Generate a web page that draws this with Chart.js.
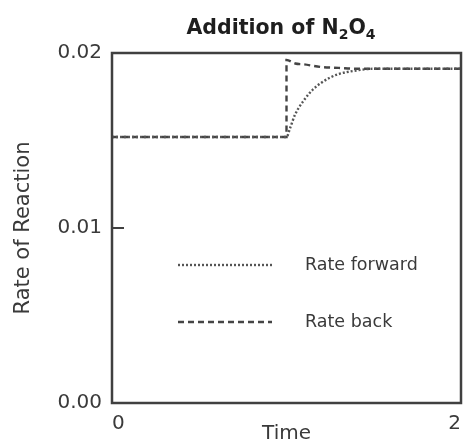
<!DOCTYPE html>
<html>
<head>
<meta charset="utf-8">
<script src="https://cdn.jsdelivr.net/npm/chart.js@4.4.1/dist/chart.umd.min.js"></script>
<style>
  html, body { margin: 0; padding: 0; background: #fff; }
  #wrap { width: 465px; height: 446px; }
</style>
</head>
<body>
<div id="wrap"><canvas id="rateChart" width="465" height="446"></canvas></div>
<script>
// Valeurs
const timeForward = [0, 1, 1.02, 1.05, 1.1, 1.15, 1.2, 1.25, 1.3, 1.4, 1.5, 1.7, 2];
const rateForward = [0.0152, 0.0152, 0.0157, 0.0165, 0.0173, 0.0179, 0.0183, 0.0186, 0.0188, 0.0190, 0.0191, 0.0191, 0.0191];
const timeBack = [0, 1, 1, 1.05, 1.1, 1.2, 1.3, 1.4, 1.6, 2];
const rateBack = [0.0152, 0.0152, 0.0196, 0.0194, 0.01935, 0.0192, 0.01915, 0.0191, 0.0191, 0.0191];
const seriesLabels = ['Rate forward', 'Rate back'];
const yTicks = [0, 0.01, 0.02];
const xTicks = [0, 2];

const ink = '#404040';
const textColor = '#3a3a3a';
const fontFamily = '"DejaVu Sans", sans-serif';

function toPoints(xs, ys) {
    return xs.map((x, i) => ({ x: x, y: ys[i] }));
}

// Cadre, graduation intérieure, titre et légende
const decorPlugin = {
    id: 'decor',
    afterDraw(chart) {
        const { ctx, chartArea: a, scales } = chart;
        ctx.save();
        ctx.strokeStyle = ink;
        ctx.lineWidth = 2.5;
        ctx.strokeRect(a.left, a.top, a.right - a.left, a.bottom - a.top);

        // petite graduation à 0.01
        const yMid = scales.y.getPixelForValue(yTicks[1]);
        ctx.lineWidth = 2;
        ctx.beginPath();
        ctx.moveTo(a.left, yMid);
        ctx.lineTo(a.left + 12, yMid);
        ctx.stroke();

        // titre avec indices
        ctx.fillStyle = '#1e1e1e';
        ctx.textBaseline = 'alphabetic';
        const big = 'bold 20.5px ' + fontFamily;
        const small = 'bold 14px ' + fontFamily;
        const parts = [['Addition of N', big, 0], ['2', small, 5], ['O', big, 0], ['4', small, 5]];
        let total = 0;
        parts.forEach(p => { ctx.font = p[1]; total += ctx.measureText(p[0]).width; });
        let x = 281 - total / 2;
        const base = 34;
        parts.forEach(p => {
            ctx.font = p[1];
            ctx.fillText(p[0], x, base + p[2]);
            x += ctx.measureText(p[0]).width;
        });

        // légende à l'intérieur du graphique
        const ds = chart.data.datasets;
        const legendX0 = a.left + 66;
        const legendX1 = a.left + 160;
        const rows = [a.top + 212, a.top + 269];
        ds.forEach((d, i) => {
            ctx.strokeStyle = d.borderColor;
            ctx.lineWidth = d.borderWidth;
            ctx.setLineDash(d.borderDash);
            ctx.beginPath();
            ctx.moveTo(legendX0, rows[i]);
            ctx.lineTo(legendX1, rows[i]);
            ctx.stroke();
            ctx.setLineDash([]);
            ctx.fillStyle = textColor;
            ctx.font = '17.5px ' + fontFamily;
            ctx.textBaseline = 'middle';
            ctx.fillText(d.label, legendX1 + 33, rows[i]);
        });
        ctx.restore();
    }
};

new Chart(document.getElementById('rateChart'), {
    type: 'line',
    data: {
        datasets: [{
            label: seriesLabels[0],
            data: toPoints(timeForward, rateForward),
            borderColor: '#555',
            borderWidth: 2.4,
            borderDash: [2, 2],
            pointRadius: 0,
            cubicInterpolationMode: 'monotone',
            fill: false
        }, {
            label: seriesLabels[1],
            data: toPoints(timeBack, rateBack),
            borderColor: '#444',
            borderWidth: 2.4,
            borderDash: [6, 4],
            pointRadius: 0,
            cubicInterpolationMode: 'monotone',
            fill: false
        }]
    },
    options: {
        responsive: false,
        animation: false,
        layout: { padding: { top: 53, right: 4, left: 0, bottom: 0 } },
        plugins: {
            legend: { display: false },
            title: { display: false },
            tooltip: { enabled: false }
        },
        scales: {
            x: {
                type: 'linear',
                min: 0,
                max: 2,
                afterFit(scale) {
                    scale.height = 43;
                    scale.paddingLeft = 0;
                    scale.paddingRight = 0;
                },
                afterBuildTicks(scale) { scale.ticks = xTicks.map(v => ({ value: v })); },
                grid: { display: false, drawTicks: false },
                border: { display: false },
                ticks: {
                    padding: 9,
                    align: 'inner',
                    color: textColor,
                    font: { family: fontFamily, size: 20 }
                },
                title: {
                    display: true,
                    text: 'Time',
                    color: textColor,
                    padding: { top: -4, bottom: 0 },
                    font: { family: fontFamily, size: 20 }
                }
            },
            y: {
                min: 0,
                max: 0.02,
                afterFit(scale) {
                    scale.width = 112;
                    scale.paddingTop = 0;
                    scale.paddingBottom = 0;
                },
                afterBuildTicks(scale) { scale.ticks = yTicks.map(v => ({ value: v })); },
                grid: { display: false, drawTicks: false },
                border: { display: false },
                ticks: {
                    padding: 10,
                    color: textColor,
                    font: { family: fontFamily, size: 20 },
                    callback: v => v.toFixed(2)
                },
                title: {
                    display: true,
                    text: 'Rate of Reaction',
                    color: textColor,
                    padding: { top: 11, bottom: 2 },
                    font: { family: fontFamily, size: 21 }
                }
            }
        }
    },
    plugins: [decorPlugin]
});
</script>
</body>
</html>
